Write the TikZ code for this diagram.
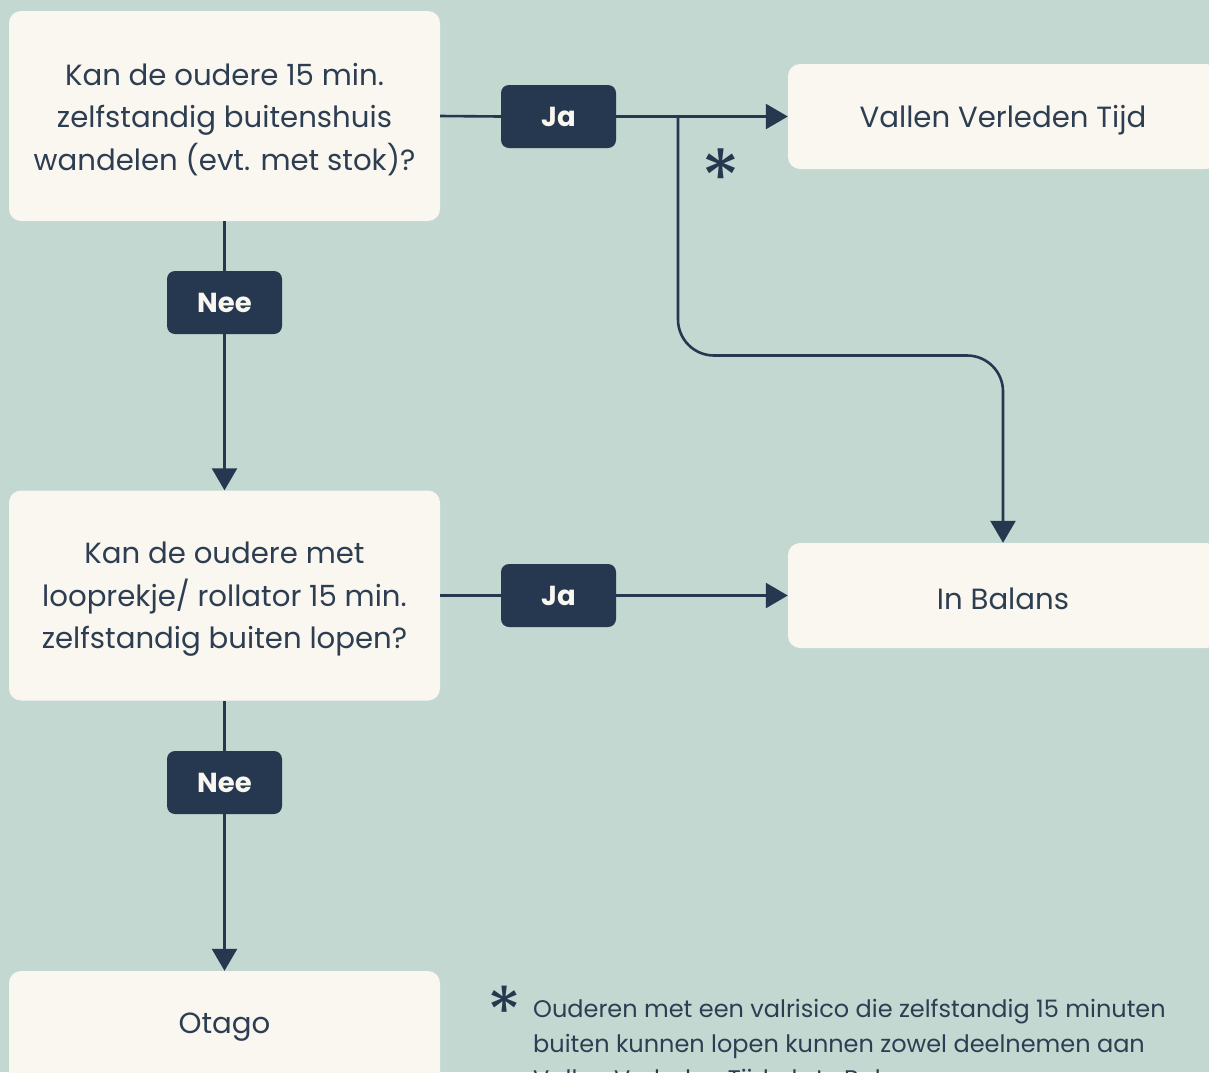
\documentclass[tikz,border=0pt]{standalone}
\usepackage{fontspec}
\setmainfont{Poppins}
\usetikzlibrary{arrows.meta}
\definecolor{bg}{HTML}{C2D8D1}
\definecolor{card}{HTML}{FAF7F0}
\definecolor{navy}{HTML}{263850}
\definecolor{ink}{HTML}{2E3E52}
\newcommand{\lowstrut}{\rule{0pt}{29pt}}
\tikzset{
  card/.style={fill=card, draw=none, rounded corners=12pt, align=center, text=ink,
    font=\fontsize{29.2}{42.5}\selectfont, inner sep=0pt},
  qbox/.style={card, minimum width=431pt, minimum height=210pt},
  abox/.style={card, minimum width=430pt, minimum height=105pt},
  tag/.style={fill=navy, rounded corners=8pt, text=card, minimum width=115pt,
    minimum height=63pt, inner sep=0pt, font=\fontsize{27.5}{30}\selectfont\bfseries},
  conn/.style={draw=navy, line width=2.6pt},
  arr/.style={conn, -{Triangle[length=22pt,width=25pt]}},
}
\begin{document}
\begin{tikzpicture}[x=1pt,y=-1pt]
\fill[bg] (0,0) rectangle (1209,1072);
\useasboundingbox (0,0) rectangle (1209,1072);
\clip (0,0) rectangle (1209,1072);
% cards
\node[qbox] (q1) at (224.5,116) {\lowstrut Kan de oudere 15 min.\\zelfstandig buitenshuis\\wandelen (evt. met stok)?};
\node[qbox] (q2) at (224.5,595.5) {\lowstrut Kan de oudere met\\looprekje/ rollator 15 min.\\zelfstandig buiten lopen?};
\node[qbox] (otago) at (224.5,1076) {};
\node[text=ink, font=\fontsize{29.2}{42.5}\selectfont] (otagotxt) at (224.5,1027) {Otago};
\node[abox] (vallen) at (1003,116.5) {\lowstrut Vallen Verleden Tijd};
\node[abox] (balans) at (1003,595.5) {\lowstrut In Balans};
% tags
\node[tag] (ja1) at (558.5,116.5) {Ja};
\node[tag] (ja2) at (558.5,595.5) {Ja};
\node[tag] (nee1) at (224.5,302.5) {Nee};
\node[tag] (nee2) at (224.5,782.5) {Nee};
% connectors
\draw[conn] (q1.east) -- (ja1.west);
\draw[arr] (ja1.east) -- (vallen.west);
\draw[conn] (q2.east) -- (ja2.west);
\draw[arr] (ja2.east) -- (balans.west);
\draw[conn] (q1.south) -- (nee1.north);
\draw[arr] (nee1.south) -- (q2.north);
\draw[conn] (q2.south) -- (nee2.north);
\draw[arr] (nee2.south) -- (otago.north);
\coordinate (br) at (678,116.5);
\coordinate (m1) at (678,355.5);
\coordinate (m2) at (1003,355.5);
\draw[arr, rounded corners=36pt] (br) -- (m1) -- (m2) -- (balans.north);
\node[text=navy, font=\fontsize{80}{80}\selectfont] (ast1) at (721,178) {*};
% footnote
\node[text=navy, font=\fontsize{70}{70}\selectfont] (ast2) at (505,1012) {*};
\node[text=ink, anchor=north west, align=left, inner sep=0pt,
  font=\fontsize{24}{35}\selectfont] (note) at (533,999)
  {Ouderen met een valrisico die zelfstandig 15 minuten\\buiten kunnen lopen kunnen zowel deelnemen aan\\Vallen Verleden Tijd als In Balans.};
\end{tikzpicture}
\end{document}
